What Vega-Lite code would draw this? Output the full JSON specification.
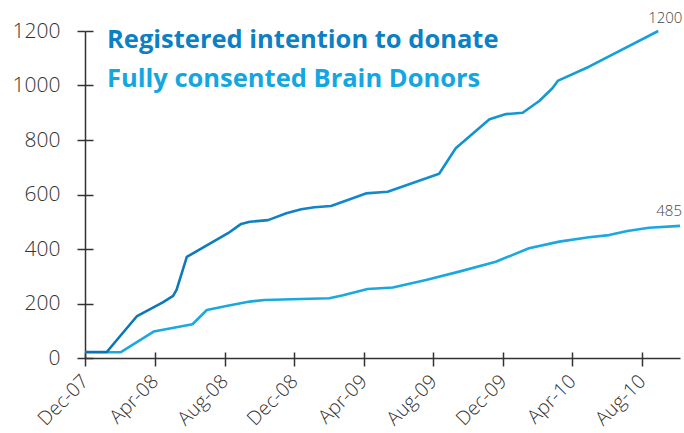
{
  "$schema": "https://vega.github.io/schema/vega-lite/v6.json",
  "width": 595,
  "height": 327,
  "autosize": {"type": "none"},
  "padding": {"left": 85, "top": 31, "right": 4, "bottom": 75},
  "background": "white",
  "config": {
    "view": {"stroke": null},
    "axis": {
      "grid": false,
      "domainColor": "#333333",
      "tickColor": "#333333",
      "domainWidth": 1.5,
      "tickWidth": 1.5,
      "labelColor": "#333333",
      "labelFont": "Open Sans",
      "labelFontWeight": 300,
      "labelOverlap": false,
      "title": null
    }
  },
  "title": {
    "text": "Registered intention to donate",
    "subtitle": "Fully consented Brain Donors",
    "anchor": "start",
    "frame": "group",
    "orient": "top",
    "offset": -81,
    "dx": 22,
    "font": "Open Sans",
    "fontSize": 25.5,
    "fontWeight": "bold",
    "color": "#0c80c4",
    "subtitleFont": "Open Sans",
    "subtitleFontSize": 25.5,
    "subtitleFontWeight": "bold",
    "subtitleColor": "#14a6e0",
    "subtitlePadding": 13
  },
  "data": {
    "values": [
      {"series": "Registered", "date": "2007-12-01", "value": 22},
      {"series": "Registered", "date": "2008-01-08", "value": 22},
      {"series": "Registered", "date": "2008-03-01", "value": 154},
      {"series": "Registered", "date": "2008-04-15", "value": 204},
      {"series": "Registered", "date": "2008-05-03", "value": 228},
      {"series": "Registered", "date": "2008-05-09", "value": 250},
      {"series": "Registered", "date": "2008-05-27", "value": 371},
      {"series": "Registered", "date": "2008-08-07", "value": 458},
      {"series": "Registered", "date": "2008-08-30", "value": 492},
      {"series": "Registered", "date": "2008-09-14", "value": 500},
      {"series": "Registered", "date": "2008-10-16", "value": 506},
      {"series": "Registered", "date": "2008-11-17", "value": 531},
      {"series": "Registered", "date": "2008-12-13", "value": 546},
      {"series": "Registered", "date": "2009-01-05", "value": 553},
      {"series": "Registered", "date": "2009-02-03", "value": 558},
      {"series": "Registered", "date": "2009-04-05", "value": 604},
      {"series": "Registered", "date": "2009-05-13", "value": 610},
      {"series": "Registered", "date": "2009-08-11", "value": 676},
      {"series": "Registered", "date": "2009-09-09", "value": 770},
      {"series": "Registered", "date": "2009-11-07", "value": 876},
      {"series": "Registered", "date": "2009-12-06", "value": 895},
      {"series": "Registered", "date": "2010-01-04", "value": 900},
      {"series": "Registered", "date": "2010-02-02", "value": 943},
      {"series": "Registered", "date": "2010-02-25", "value": 990},
      {"series": "Registered", "date": "2010-03-07", "value": 1018},
      {"series": "Registered", "date": "2010-04-30", "value": 1069},
      {"series": "Registered", "date": "2010-08-29", "value": 1200},
      {"series": "Consented", "date": "2007-12-01", "value": 21},
      {"series": "Consented", "date": "2008-02-01", "value": 21},
      {"series": "Consented", "date": "2008-03-30", "value": 97},
      {"series": "Consented", "date": "2008-06-06", "value": 124},
      {"series": "Consented", "date": "2008-07-01", "value": 176},
      {"series": "Consented", "date": "2008-08-04", "value": 191},
      {"series": "Consented", "date": "2008-09-14", "value": 207},
      {"series": "Consented", "date": "2008-10-10", "value": 213},
      {"series": "Consented", "date": "2009-01-31", "value": 219},
      {"series": "Consented", "date": "2009-02-24", "value": 230},
      {"series": "Consented", "date": "2009-04-08", "value": 253},
      {"series": "Consented", "date": "2009-05-22", "value": 259},
      {"series": "Consented", "date": "2009-07-19", "value": 286},
      {"series": "Consented", "date": "2009-09-15", "value": 317},
      {"series": "Consented", "date": "2009-11-18", "value": 353},
      {"series": "Consented", "date": "2010-01-15", "value": 403},
      {"series": "Consented", "date": "2010-03-09", "value": 427},
      {"series": "Consented", "date": "2010-04-30", "value": 443},
      {"series": "Consented", "date": "2010-06-04", "value": 451},
      {"series": "Consented", "date": "2010-07-06", "value": 466},
      {"series": "Consented", "date": "2010-08-13", "value": 478},
      {"series": "Consented", "date": "2010-10-06", "value": 485}
    ]
  },
  "layer": [
    {
      "transform": [{"filter": "datum.series == 'Consented'"}],
      "mark": {"type": "line", "color": "#1aa8e0", "strokeWidth": 2.6, "strokeJoin": "round"},
      "encoding": {
        "x": {
          "field": "date", "type": "temporal",
          "scale": {"type": "utc", "domain": [{"year": 2007, "month": 12, "date": 1, "utc": true}, {"year": 2010, "month": 10, "date": 6, "utc": true}]},
          "axis": {
            "orient": "bottom",
            "values": [
              {"year": 2007, "month": 12, "date": 1, "utc": true},
              {"year": 2008, "month": 4, "date": 1, "utc": true},
              {"year": 2008, "month": 8, "date": 1, "utc": true},
              {"year": 2008, "month": 12, "date": 1, "utc": true},
              {"year": 2009, "month": 4, "date": 1, "utc": true},
              {"year": 2009, "month": 8, "date": 1, "utc": true},
              {"year": 2009, "month": 12, "date": 1, "utc": true},
              {"year": 2010, "month": 4, "date": 1, "utc": true},
              {"year": 2010, "month": 8, "date": 1, "utc": true}
            ],
            "labelExpr": "utcFormat(datum.value, '%b-%y')",
            "tickSize": 8,
            "labelAngle": -45,
            "labelAlign": "right",
            "labelBaseline": "middle",
            "labelPadding": 12,
            "labelFontSize": 19.5
          }
        },
        "y": {
          "field": "value", "type": "quantitative",
          "scale": {"domain": [0, 1200], "nice": false, "zero": true},
          "axis": {
            "orient": "left",
            "values": [0, 200, 400, 600, 800, 1000, 1200],
            "format": "d",
            "tickSize": 8,
            "labelPadding": 17,
            "labelFontSize": 21
          }
        }
      }
    },
    {
      "transform": [{"filter": "datum.series == 'Registered'"}],
      "mark": {
        "type": "line",
        "strokeWidth": 2.6,
        "strokeJoin": "round",
        "color": {"gradient": "linear", "x1": 0, "x2": 1, "y1": 0, "y2": 0, "stops": [{"offset": 0, "color": "#0a72b6"}, {"offset": 1, "color": "#16a2de"}]}
      },
      "encoding": {
        "x": {"field": "date", "type": "temporal", "axis": null},
        "y": {"field": "value", "type": "quantitative", "axis": null}
      }
    },
    {
      "transform": [{"filter": "datum.series == 'Registered' && datum.value == 1200"}],
      "mark": {"type": "text", "align": "center", "baseline": "bottom", "dx": 7, "dy": -5, "font": "Open Sans", "fontWeight": 300, "fontSize": 15, "color": "#444444"},
      "encoding": {
        "x": {
          "field": "date", "type": "temporal",
          "axis": {
            "orient": "bottom",
            "values": [
              {"year": 2007, "month": 12, "date": 1, "utc": true},
              {"year": 2008, "month": 4, "date": 1, "utc": true},
              {"year": 2008, "month": 8, "date": 1, "utc": true},
              {"year": 2008, "month": 12, "date": 1, "utc": true},
              {"year": 2009, "month": 4, "date": 1, "utc": true},
              {"year": 2009, "month": 8, "date": 1, "utc": true},
              {"year": 2009, "month": 12, "date": 1, "utc": true},
              {"year": 2010, "month": 4, "date": 1, "utc": true},
              {"year": 2010, "month": 8, "date": 1, "utc": true}
            ],
            "offset": -6,
            "tickSize": 6,
            "labels": false,
            "domain": false
          }
        },
        "y": {
          "field": "value", "type": "quantitative",
          "axis": {
            "orient": "left",
            "values": [0, 200, 400, 600, 800, 1000, 1200],
            "offset": -8,
            "tickSize": 8,
            "labels": false,
            "domain": false
          }
        },
        "text": {"field": "value", "type": "quantitative"}
      }
    },
    {
      "transform": [{"filter": "datum.series == 'Consented' && datum.value == 485"}],
      "mark": {"type": "text", "align": "right", "baseline": "bottom", "dx": 2, "dy": -7, "font": "Open Sans", "fontWeight": 300, "fontSize": 15, "color": "#444444"},
      "encoding": {
        "x": {"field": "date", "type": "temporal", "axis": null},
        "y": {"field": "value", "type": "quantitative", "axis": null},
        "text": {"field": "value", "type": "quantitative"}
      }
    }
  ],
  "resolve": {"axis": {"x": "independent", "y": "independent"}}
}
